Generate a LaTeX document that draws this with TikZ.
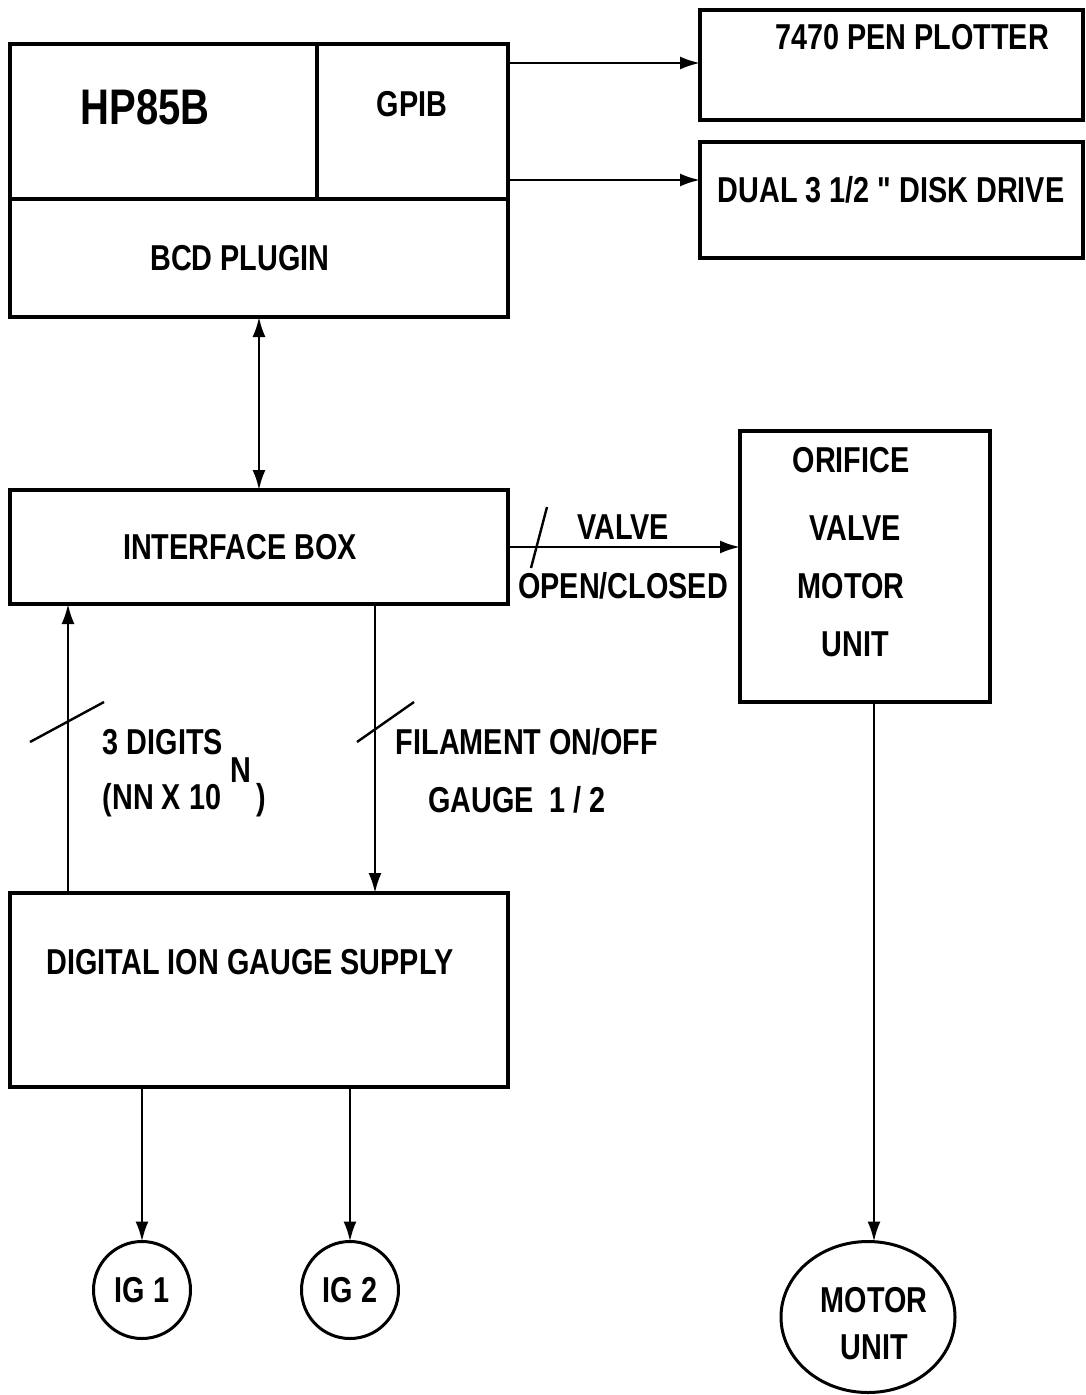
\documentclass[tikz,border=0pt]{standalone}
\usepackage{fontspec}
\setmainfont{Liberation Sans}[FakeStretch=0.8]
\newfontfamily\plainq{Liberation Sans}[FakeStretch=0.8]
\usetikzlibrary{arrows.meta,shapes.geometric}
\begin{document}
\begin{tikzpicture}[x=1pt,y=-1pt,
  font=\fontsize{36}{42}\selectfont\bfseries,
  box/.style={draw, line width=3.2pt, inner sep=0pt, outer sep=0pt},
  txt/.style={inner sep=0pt, anchor=center},
  conn/.style={line width=2.4pt, -{Latex[length=20pt,width=13pt]}},
  conn2/.style={line width=2.4pt, {Latex[length=20pt,width=13pt]}-{Latex[length=20pt,width=13pt]}},
  slashline/.style={line width=2.4pt},
  roundbox/.style={draw, line width=3pt, ellipse, inner sep=0pt, outer sep=0pt}]
\useasboundingbox[fill=white] (0,0) rectangle (1085,1395);

% computer block
\node[box, minimum width=307pt, minimum height=155pt] (hp) at (163.5,121.5) {};
\node[box, minimum width=191pt, minimum height=155pt] (gpib) at (412.5,121.5) {};
\node[box, minimum width=498pt, minimum height=118pt] (bcd) at (259,258) {};
\node[txt, font=\fontsize{50}{54}\selectfont\bfseries] (hpT) at (145,107) {HP85B};
\node[txt] (gpibT) at (412,104) {GPIB};
\node[txt] (bcdT) at (240,258) {BCD PLUGIN};

% peripherals
\node[box, minimum width=383pt, minimum height=110pt] (plot) at (891.5,65) {};
\node[txt] (plotT) at (912,37) {7470 PEN PLOTTER};
\node[box, minimum width=383pt, minimum height=116pt] (disk) at (891.5,200) {};
\node[txt] (diskT) at (891,190) {DUAL 3 1/2 {\plainq\bfseries "} DISK DRIVE};

% interface
\node[box, minimum width=498pt, minimum height=114pt] (iface) at (259,547) {};
\node[txt] (ifaceT) at (240,547) {INTERFACE BOX};

% orifice valve motor unit
\node[box, minimum width=250pt, minimum height=271pt] (ori) at (865,566.5) {};
\node[txt] (oriA) at (851,460) {ORIFICE};
\node[txt] (oriB) at (855,528) {VALVE};
\node[txt] (oriC) at (851,586) {MOTOR};
\node[txt] (oriD) at (855,644) {UNIT};

% digital ion gauge supply
\node[box, minimum width=498pt, minimum height=194pt] (dig) at (259,990) {};
\node[txt] (digT) at (250,962) {DIGITAL ION GAUGE SUPPLY};

% gauges and motor
\node[roundbox, minimum width=97pt, minimum height=97pt] (ig1) at (142,1290) {IG 1};
\node[roundbox, minimum width=174pt, minimum height=151pt] (mot) at (868,1317) {};
\node[roundbox, minimum width=97pt, minimum height=97pt] (ig2) at (350,1290) {IG 2};
\node[txt] (motA) at (874,1300) {MOTOR};
\node[txt] (motB) at (874,1347) {UNIT};

% connectors
\coordinate (g1) at ([yshift=-19pt]gpib.north east);
\coordinate (g2) at ([yshift=19pt]gpib.south east);
\draw[conn] (g1) -- (g1 -| plot.west);
\draw[conn] (g2) -- (g2 -| disk.west);
\draw[conn2] (bcd.south) -- (iface.north);
\draw[conn] (iface.east) -- (iface.east -| ori.west);
\draw[slashline] (531,568) -- (547,507);
\node[txt] (valveT) at (623,527) {VALVE};
\node[txt] (openT) at (623,586) {OPEN/CLOSED};

\coordinate (d1) at ([xshift=58pt]dig.north west);
\draw[conn] (d1) -- (d1 |- iface.south);
\draw[slashline] (30,742) -- (104,702);
\node[txt] (digitsT) at (163,742) {3 DIGITS};
\node[txt] (nnT) at (162,800) {(NN X 10};
\node[txt] (nT) at (241,770) {N};
\node[txt] (parT) at (261,800) {)};

\coordinate (i1) at ([xshift=365pt]iface.south west);
\draw[conn] (i1) -- (i1 |- dig.north);
\draw[slashline] (357,742) -- (414,702);
\node[txt] (filT) at (527,742) {FILAMENT ON/OFF};
\node[txt] (gauT) at (517,800) {GAUGE\ \ 1 / 2};

\draw[conn] (ig1.north |- dig.south) -- (ig1.north);
\draw[conn] (ig2.north |- dig.south) -- (ig2.north);
\draw[conn] ([xshift=6pt]mot.north |- ori.south) -- ([xshift=6pt]mot.north);
\end{tikzpicture}
\end{document}
